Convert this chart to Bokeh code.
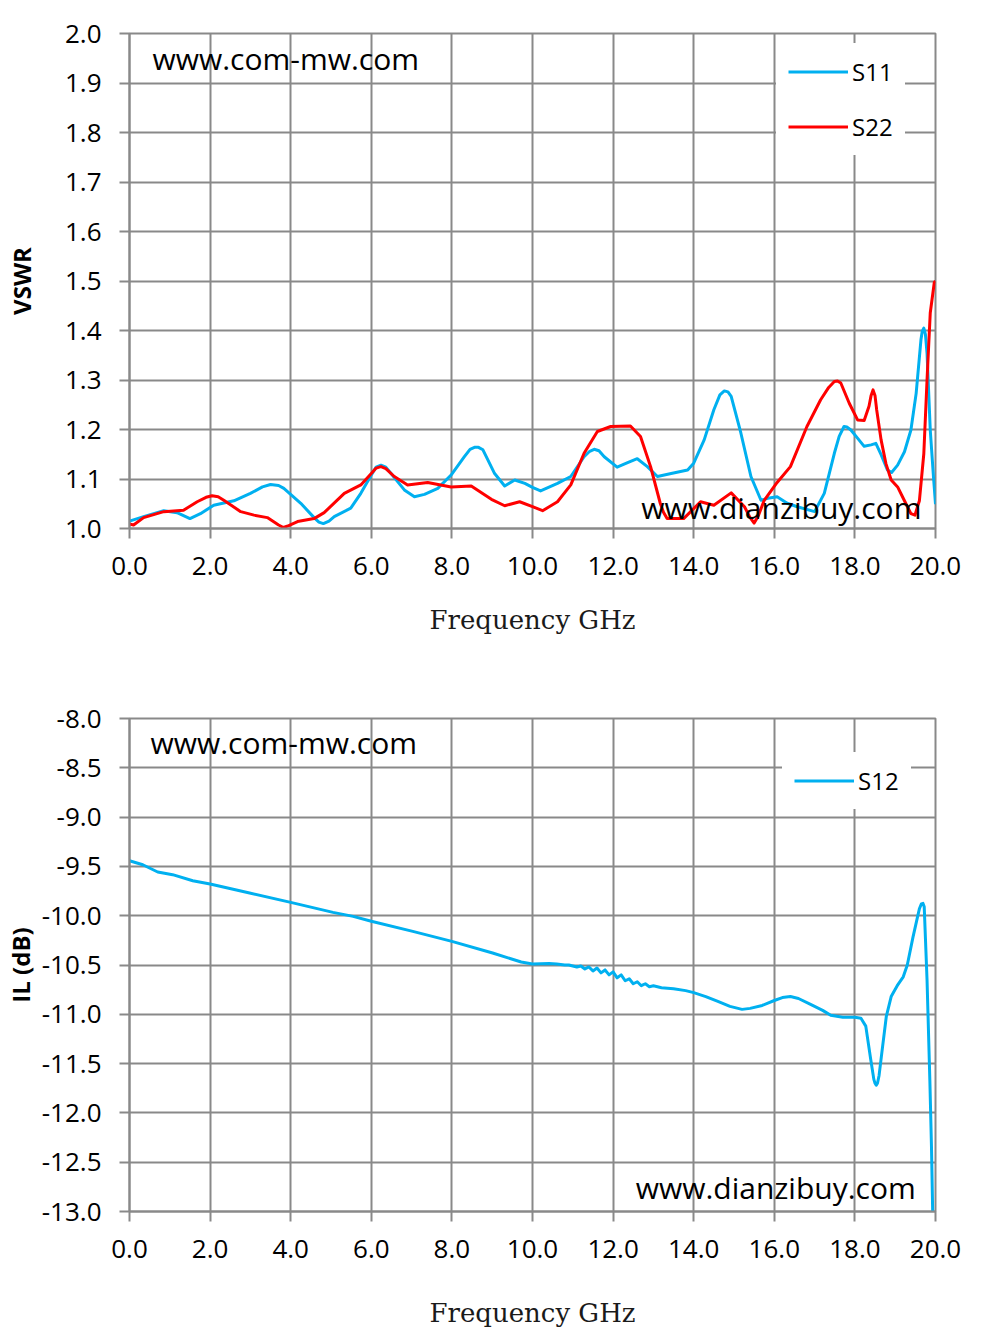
from bokeh.plotting import figure
from bokeh.layouts import column
from bokeh.models import (Range1d, FixedTicker, NumeralTickFormatter, Legend,
                          LegendItem, Label, ColumnDataSource)
from bokeh.embed import file_html
from bokeh.resources import INLINE

# ---------------- data ----------------
X_TICKS = [0.0, 2.0, 4.0, 6.0, 8.0, 10.0, 12.0, 14.0, 16.0, 18.0, 20.0]
VSWR_TICKS = [1.0, 1.1, 1.2, 1.3, 1.4, 1.5, 1.6, 1.7, 1.8, 1.9, 2.0]
IL_TICKS = [-13.0, -12.5, -12.0, -11.5, -11.0, -10.5, -10.0, -9.5, -9.0, -8.5, -8.0]

s11_freq = [0.0, 0.35, 0.85, 1.18, 1.5, 1.76, 2.09, 2.59, 3.0, 3.3, 3.5, 3.7,
            3.83, 4.25, 4.58, 4.7, 4.81, 4.95, 5.08, 5.49, 5.74, 6.0, 6.12,
            6.24, 6.36, 6.49, 6.82, 7.07, 7.32, 7.65, 7.98, 8.31, 8.45, 8.56,
            8.66, 8.77, 9.06, 9.31, 9.56, 9.81, 10.0, 10.2, 10.62, 10.95, 11.28,
            11.42, 11.53, 11.65, 11.78, 12.1, 12.36, 12.6, 12.85, 13.1, 13.44,
            13.85, 14.0, 14.26, 14.5, 14.65, 14.76, 14.85, 14.93, 15.17, 15.42,
            15.67, 15.84, 16.07, 16.32, 16.57, 17.0, 17.24, 17.49, 17.61, 17.73,
            17.8, 17.9, 18.07, 18.23, 18.4, 18.52, 18.65, 18.81, 18.91, 19.06,
            19.23, 19.39, 19.52, 19.64, 19.67, 19.71, 19.75, 19.79, 19.87,
            19.95, 20.0]
s11_vswr = [1.015, 1.024, 1.036, 1.032, 1.020, 1.030, 1.047, 1.056, 1.071, 1.084,
            1.089, 1.087, 1.081, 1.051, 1.022, 1.013, 1.010, 1.015, 1.024, 1.041,
            1.071, 1.108, 1.124, 1.128, 1.124, 1.111, 1.078, 1.064, 1.069, 1.081,
            1.108, 1.145, 1.160, 1.164, 1.164, 1.159, 1.111, 1.086, 1.098, 1.091,
            1.083, 1.076, 1.091, 1.105, 1.145, 1.156, 1.160, 1.157, 1.145, 1.124,
            1.133, 1.141, 1.125, 1.105, 1.111, 1.118, 1.132, 1.179, 1.240, 1.270,
            1.278, 1.276, 1.267, 1.193, 1.105, 1.057, 1.061, 1.064, 1.051, 1.044,
            1.034, 1.071, 1.152, 1.186, 1.206, 1.205, 1.199, 1.182, 1.166, 1.169,
            1.172, 1.149, 1.118, 1.113, 1.128, 1.155, 1.199, 1.273, 1.382, 1.398,
            1.405, 1.392, 1.354, 1.199, 1.104, 1.049]

s22_freq = [0.0, 0.1, 0.35, 0.85, 1.34, 1.68, 1.9, 2.05, 2.2, 2.34, 2.76, 3.09,
            3.42, 3.7, 3.82, 3.95, 4.17, 4.58, 4.83, 5.33, 5.74, 6.0, 6.12, 6.24,
            6.36, 6.57, 6.9, 7.4, 7.98, 8.48, 8.98, 9.31, 9.68, 10.0, 10.25,
            10.62, 10.95, 11.28, 11.61, 11.94, 12.43, 12.68, 12.93, 13.17, 13.25,
            13.34, 13.75, 14.17, 14.5, 14.93, 15.26, 15.4, 15.5, 15.6, 15.75,
            16.07, 16.4, 16.81, 17.15, 17.35, 17.49, 17.57, 17.65, 17.86, 18.07,
            18.23, 18.35, 18.4, 18.45, 18.5, 18.54, 18.65, 18.77, 18.9, 19.06,
            19.23, 19.39, 19.49, 19.6, 19.71, 19.79, 19.87, 19.97, 20.0]
s22_vswr = [1.009, 1.007, 1.022, 1.034, 1.037, 1.054, 1.063, 1.066, 1.064, 1.057,
            1.034, 1.027, 1.022, 1.007, 1.002, 1.006, 1.014, 1.020, 1.032, 1.071,
            1.088, 1.111, 1.122, 1.125, 1.121, 1.105, 1.088, 1.093, 1.084, 1.086,
            1.059, 1.046, 1.054, 1.044, 1.036, 1.054, 1.088, 1.152, 1.196, 1.206,
            1.207, 1.186, 1.125, 1.051, 1.033, 1.020, 1.020, 1.054, 1.047, 1.072,
            1.044, 1.022, 1.011, 1.025, 1.057, 1.093, 1.125, 1.206, 1.260, 1.285,
            1.297, 1.298, 1.294, 1.253, 1.219, 1.218, 1.247, 1.268, 1.280, 1.268,
            1.240, 1.179, 1.131, 1.098, 1.084, 1.056, 1.030, 1.027, 1.056, 1.151,
            1.300, 1.436, 1.497, 1.500]

s12_freq = [0.0, 0.33, 0.7, 1.07, 1.57, 2.0, 2.98, 4.0, 5.05, 5.55, 6.0, 7.03,
            8.0, 9.01, 9.72, 10.0, 10.41, 10.6, 10.8, 10.9, 11.0, 11.1, 11.2,
            11.3, 11.4, 11.5, 11.6, 11.7, 11.8, 11.9, 12.0, 12.1, 12.2, 12.3,
            12.4, 12.5, 12.6, 12.7, 12.8, 12.9, 13.0, 13.2, 13.5, 13.8, 14.0,
            14.3, 14.6, 14.9, 15.2, 15.4, 15.7, 16.0, 16.2, 16.4, 16.6, 16.9,
            17.2, 17.4, 17.7, 18.0, 18.15, 18.27, 18.39, 18.47, 18.5, 18.53,
            18.56, 18.6, 18.68, 18.78, 18.9, 19.05, 19.2, 19.3, 19.44, 19.55,
            19.6, 19.65, 19.69, 19.72, 19.79, 19.86, 19.9, 19.93]
s12_il = [-9.443, -9.483, -9.557, -9.584, -9.645, -9.679, -9.770, -9.865, -9.966,
          -10.007, -10.057, -10.159, -10.26, -10.378, -10.47, -10.49, -10.486,
          -10.49, -10.50, -10.50, -10.51, -10.52, -10.51, -10.54, -10.52, -10.56,
          -10.53, -10.58, -10.55, -10.60, -10.57, -10.63, -10.60, -10.66, -10.64,
          -10.69, -10.67, -10.71, -10.69, -10.72, -10.71, -10.73, -10.74, -10.76,
          -10.78, -10.82, -10.87, -10.92, -10.95, -10.94, -10.91, -10.86, -10.83,
          -10.82, -10.84, -10.90, -10.96, -11.01, -11.03, -11.03, -11.04, -11.12,
          -11.45, -11.66, -11.70, -11.72, -11.70, -11.62, -11.35, -11.02, -10.82,
          -10.71, -10.62, -10.50, -10.22, -10.02, -9.93, -9.88, -9.875, -9.91,
          -10.65, -11.67, -12.34, -13.0]

# ---------------- style ----------------
GRID = "#898989"
BLUE = "#00B0F0"
RED = "#FF0000"
SANS = "Open Sans"
SERIF = "DejaVu Serif"


def style(p, yticks, ylabel, ylabel_standoff, xlabel_standoff):
    p.background_fill_color = "white"
    p.border_fill_color = "white"
    p.outline_line_color = GRID
    p.outline_line_width = 2
    p.xaxis.ticker = FixedTicker(ticks=X_TICKS)
    p.yaxis.ticker = FixedTicker(ticks=yticks)
    p.xgrid.ticker = FixedTicker(ticks=X_TICKS)
    p.ygrid.ticker = FixedTicker(ticks=yticks)
    for g in (p.xgrid[0], p.ygrid[0]):
        g.grid_line_color = GRID
        g.grid_line_width = 2
    for ax in (p.xaxis[0], p.yaxis[0]):
        ax.formatter = NumeralTickFormatter(format="0.0")
        ax.axis_line_color = GRID
        ax.axis_line_width = 2
        ax.major_tick_line_color = GRID
        ax.major_tick_line_width = 2
        ax.major_tick_in = 0
        ax.major_tick_out = 10
        ax.minor_tick_line_color = None
        ax.major_label_text_font = SANS
        ax.major_label_text_font_size = "26px"
        ax.major_label_text_color = "black"
    p.xaxis.major_label_standoff = 18
    p.yaxis.major_label_standoff = 18
    p.xaxis.axis_label = "Frequency GHz"
    p.xaxis.axis_label_text_font = SERIF
    p.xaxis.axis_label_text_font_size = "26px"
    p.xaxis.axis_label_text_font_style = "normal"
    p.xaxis.axis_label_text_color = "#1a1a1a"
    p.xaxis.axis_label_standoff = xlabel_standoff
    p.yaxis.axis_label = ylabel
    p.yaxis.axis_label_text_font = SANS
    p.yaxis.axis_label_text_font_size = "24px"
    p.yaxis.axis_label_text_font_style = "bold"
    p.yaxis.axis_label_text_color = "black"
    p.yaxis.axis_label_standoff = ylabel_standoff


def make_legend(items, loc):
    lg = Legend(items=items, location=loc)
    lg.label_text_font = SANS
    lg.label_text_font_size = "24px"
    lg.label_text_color = "black"
    lg.glyph_width = 60
    lg.glyph_height = 27
    lg.label_height = 27
    lg.label_standoff = 4
    lg.spacing = 22
    lg.padding = 12
    lg.margin = 0
    lg.border_line_alpha = 0
    lg.background_fill_color = "white"
    lg.background_fill_alpha = 1.0
    return lg


# ---------------- VSWR chart ----------------
p1 = figure(width=973, height=668, x_range=Range1d(0, 20),
            y_range=Range1d(1.0, 2.0), output_backend="svg",
            toolbar_location=None, min_border_left=129, min_border_right=38,
            min_border_top=33, min_border_bottom=140)
style(p1, VSWR_TICKS, "VSWR", 24, 27)
src11 = ColumnDataSource(dict(f=s11_freq, v=s11_vswr))
src22 = ColumnDataSource(dict(f=s22_freq, v=s22_vswr))
r11 = p1.line("f", "v", source=src11, line_color=BLUE, line_width=3,
              line_join="round")
r22 = p1.line("f", "v", source=src22, line_color=RED, line_width=3,
              line_join="round")
p1.add_layout(make_legend([LegendItem(label="S11", renderers=[r11]),
                           LegendItem(label="S22", renderers=[r22])],
                          (647, 373)))
p1.add_layout(Label(x=0.57, y=1.949, text="www.com-mw.com", text_font=SANS,
                    text_font_size="30px", text_baseline="middle",
                    text_color="black"))
p1.add_layout(Label(x=12.7, y=1.042, text="www.dianzibuy.com", text_font=SANS,
                    text_font_size="30px", text_baseline="middle",
                    text_color="black"))

# ---------------- IL chart ----------------
p2 = figure(width=973, height=666, x_range=Range1d(0, 20),
            y_range=Range1d(-13.0, -8.0), output_backend="svg",
            toolbar_location=None, min_border_left=129, min_border_right=38,
            min_border_top=50, min_border_bottom=123)
style(p2, IL_TICKS, "IL (dB)", 2, 37)
src12 = ColumnDataSource(dict(f=s12_freq, v=s12_il))
r12 = p2.line("f", "v", source=src12, line_color=BLUE, line_width=3,
              line_join="round")
p2.add_layout(make_legend([LegendItem(label="S12", renderers=[r12])],
                          (653, 402)))
p2.add_layout(Label(x=0.52, y=-8.243, text="www.com-mw.com", text_font=SANS,
                    text_font_size="30px", text_baseline="middle",
                    text_color="black"))
p2.add_layout(Label(x=12.56, y=-12.757, text="www.dianzibuy.com",
                    text_font=SANS, text_font_size="30px",
                    text_baseline="middle", text_color="black"))

layout = column(p1, p2, spacing=0)
open("out.html", "w").write(file_html(layout, INLINE))
